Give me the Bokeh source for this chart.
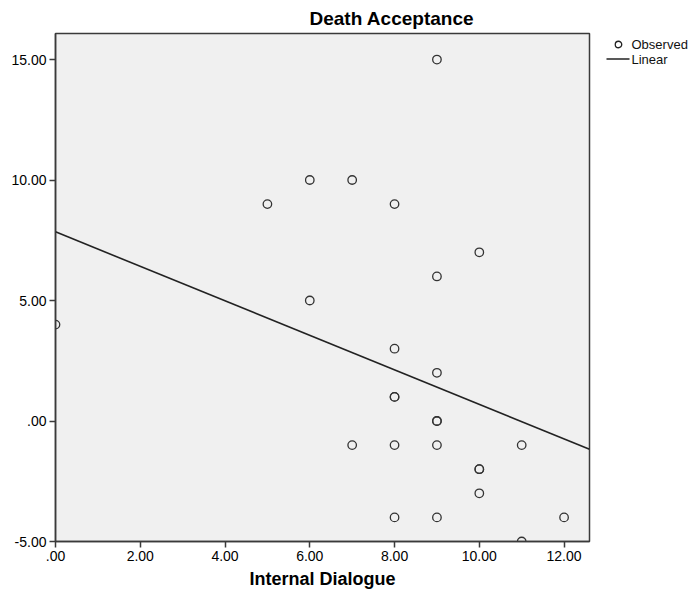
from bokeh.plotting import figure
from bokeh.layouts import row
from bokeh.models import Range1d, FixedTicker
from bokeh.core.properties import value
from bokeh.embed import file_html
from bokeh.resources import INLINE

# Observed data (Internal Dialogue vs Death Acceptance)
obs_x = [0, 5, 6, 6, 7, 7, 8, 8, 8, 8, 8, 8, 9, 9, 9, 9, 9, 9, 9, 10, 10, 10, 10, 11, 11, 12]
obs_y = [4, 9, 10, 5, 10, -1, 9, 3, 1, 1, -1, -4, 15, 6, 2, 0, 0, -1, -4, 7, -2, -2, -3, -1, -5, -4]

# Linear fit line
fit_x = [0.0, 12.6]
fit_y = [7.85, -1.17]

x_ticks = [0, 2, 4, 6, 8, 10, 12]
x_tick_labels = [".00", "2.00", "4.00", "6.00", "8.00", "10.00", "12.00"]
y_ticks = [-5, 0, 5, 10, 15]
y_tick_labels = ["-5.00", ".00", "5.00", "10.00", "15.00"]

legend_labels = ["Observed", "Linear"]

FONT = "Liberation Sans"
DARK = "#3a3a3a"

p = figure(width=591, height=598, output_backend="svg", toolbar_location=None,
           x_range=Range1d(0, 12.6), y_range=Range1d(-5, 16.08),
           min_border_left=55, min_border_right=2, min_border_top=33, min_border_bottom=57)

p.background_fill_color = "#f0f0f0"
p.border_fill_color = "white"
p.outline_line_color = DARK
p.outline_line_width = 1.5
p.grid.grid_line_color = None

p.title.text = "Death Acceptance"
p.title.align = "left"
p.title.offset = 254
p.title.text_font = FONT
p.title.text_font_size = "19px"
p.title.text_font_style = "bold"
p.title.text_color = "black"
p.title.standoff = 9

p.xaxis.ticker = FixedTicker(ticks=x_ticks)
p.xaxis.major_label_overrides = dict(zip(x_ticks, x_tick_labels))
p.yaxis.ticker = FixedTicker(ticks=y_ticks)
p.yaxis.major_label_overrides = dict(zip(y_ticks, y_tick_labels))

for ax in (p.xaxis[0], p.yaxis[0]):
    ax.axis_line_color = DARK
    ax.axis_line_width = 1.5
    ax.major_tick_line_color = DARK
    ax.major_tick_line_width = 1.5
    ax.major_tick_out = 6
    ax.major_tick_in = 0
    ax.minor_tick_line_color = None
    ax.major_label_text_font = FONT
    ax.major_label_text_font_size = "14px"
    ax.major_label_text_color = "black"
    ax.major_label_standoff = 3

p.xaxis.axis_label = "Internal Dialogue"
p.xaxis.axis_label_text_font = FONT
p.xaxis.axis_label_text_font_size = "18px"
p.xaxis.axis_label_text_font_style = "bold"
p.xaxis.axis_label_text_color = "black"
p.xaxis.axis_label_standoff = 5

p.line(fit_x, fit_y, line_color="#222222", line_width=1.6)
p.scatter(obs_x, obs_y, marker="circle", size=8.5, fill_color=None,
          line_color="#333333", line_width=1.3)

# Legend panel: its frame is aligned with the main frame (screen y 33..541),
# so the range is set to read in page pixels, y growing downward.
q = figure(width=100, height=598, output_backend="svg", toolbar_location=None,
           title=None,
           x_range=Range1d(0, 100), y_range=Range1d(541, 33),
           x_axis_location=None, y_axis_location=None,
           min_border=0, min_border_left=0, min_border_right=0,
           min_border_top=33, min_border_bottom=57)
q.outline_line_color = None
q.grid.grid_line_color = None
q.background_fill_color = "white"
q.border_fill_color = "white"

q.scatter([27], [44], marker="circle", size=6.5, fill_color=None,
          line_color="#222222", line_width=1.3)
q.line([15, 38], [58.5, 58.5], line_color="#222222", line_width=1.6)
q.text([40, 40], [44, 58.5], text=legend_labels, text_font=value(FONT),
       text_font_size="13px", text_baseline="middle", text_align="left",
       text_color="#111111")

layout = row(p, q, spacing=0)
open("out.html", "w").write(file_html(layout, INLINE))
